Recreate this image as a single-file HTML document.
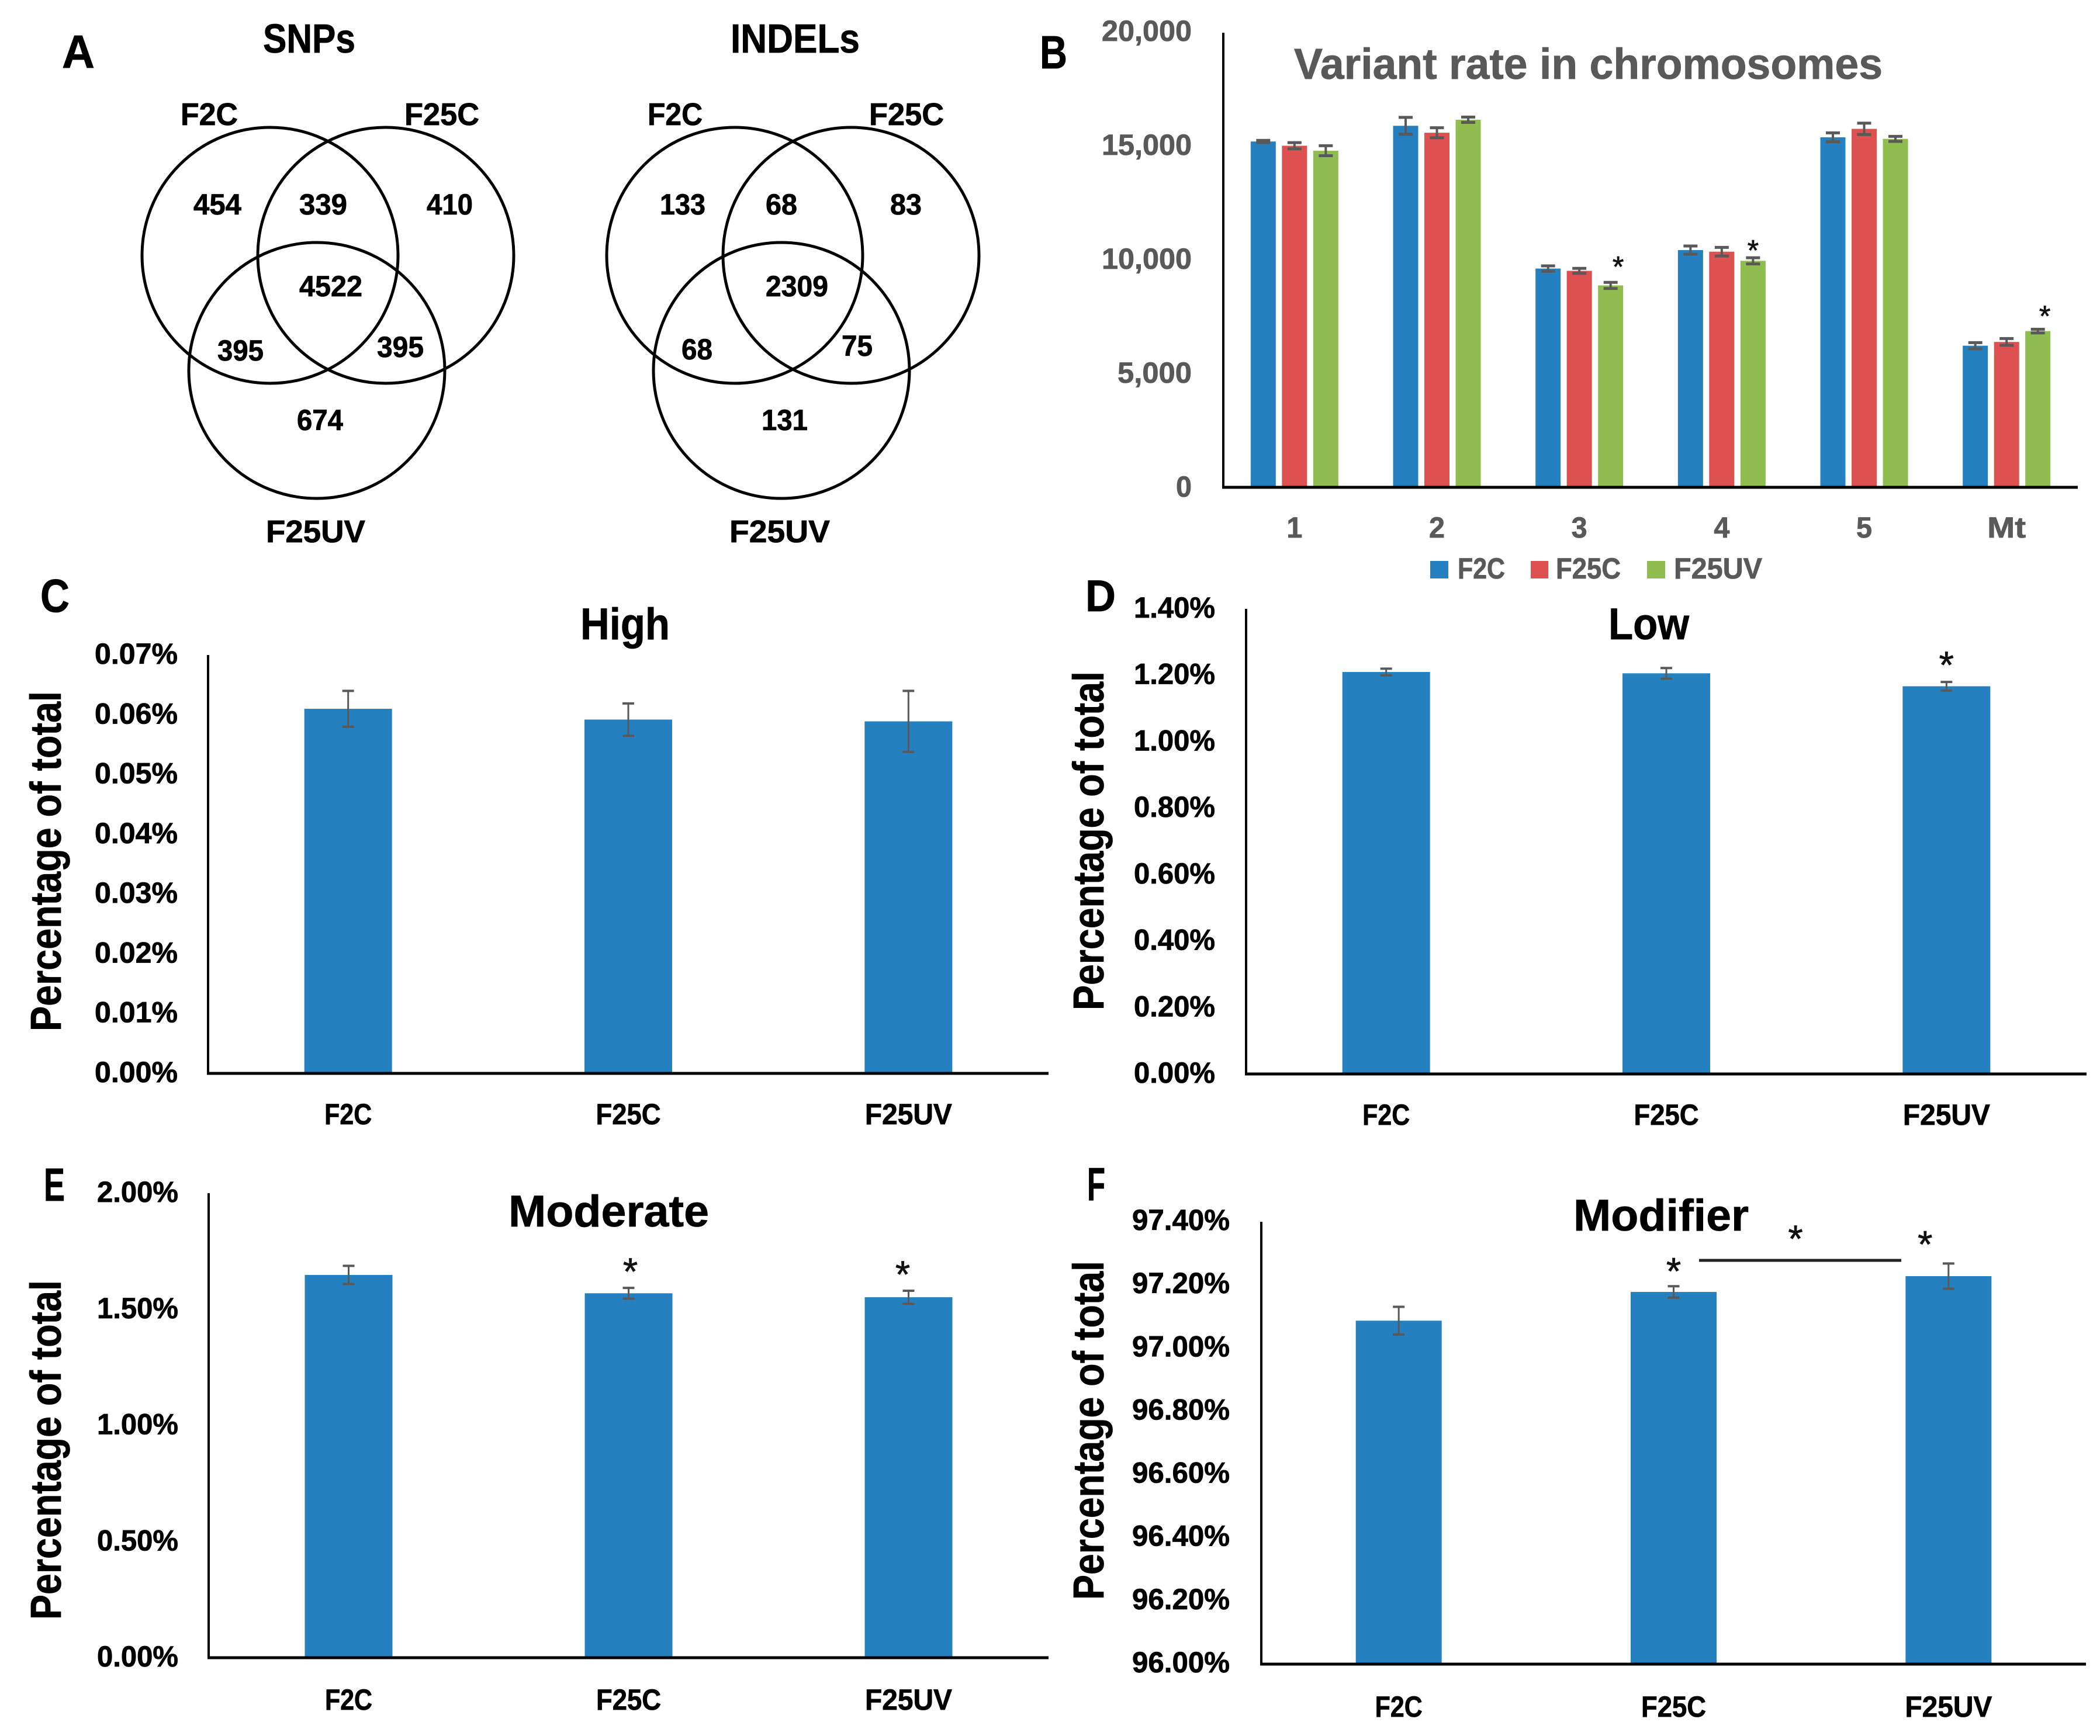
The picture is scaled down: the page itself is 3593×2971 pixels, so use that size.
<!DOCTYPE html>
<html lang="en">
<head>
<meta charset="utf-8">
<title>Variant analysis figure</title>
<style>
html,body{margin:0;padding:0;background:#fff;}
svg{display:block;}
text{font-family:"Liberation Sans",sans-serif;font-weight:bold;}
</style>
</head>
<body>
<svg id="figure" xmlns="http://www.w3.org/2000/svg" width="3593" height="2971" viewBox="0 0 3593 2971">
<rect x="0" y="0" width="3593" height="2971" fill="#ffffff"/>

<g id="panel-a" fill="none" stroke="#000" stroke-width="5">
<circle cx="462" cy="437" r="219"/>
<circle cx="660" cy="437" r="219"/>
<circle cx="542" cy="634" r="219"/>
<circle cx="1257" cy="437" r="219"/>
<circle cx="1456" cy="437" r="219"/>
<circle cx="1337" cy="634" r="219"/>
</g>
<g id="venn-text" fill="#000" stroke="#000" stroke-width="0.8">
<text x="106" y="116" font-size="80" textLength="56" lengthAdjust="spacingAndGlyphs">A</text>
<text x="450" y="90" font-size="70" textLength="158" lengthAdjust="spacingAndGlyphs">SNPs</text>
<text x="1250" y="90" font-size="70" textLength="221" lengthAdjust="spacingAndGlyphs">INDELs</text>
<text x="309" y="214" font-size="54" textLength="98" lengthAdjust="spacingAndGlyphs">F2C</text>
<text x="692" y="214" font-size="54" textLength="128" lengthAdjust="spacingAndGlyphs">F25C</text>
<text x="455" y="928" font-size="54" textLength="170" lengthAdjust="spacingAndGlyphs">F25UV</text>
<text x="1108" y="214" font-size="54" textLength="94" lengthAdjust="spacingAndGlyphs">F2C</text>
<text x="1487" y="214" font-size="54" textLength="128" lengthAdjust="spacingAndGlyphs">F25C</text>
<text x="1248" y="928" font-size="54" textLength="172" lengthAdjust="spacingAndGlyphs">F25UV</text>
<text x="331" y="367" font-size="50" textLength="82" lengthAdjust="spacingAndGlyphs">454</text>
<text x="512" y="367" font-size="50" textLength="82" lengthAdjust="spacingAndGlyphs">339</text>
<text x="730" y="367" font-size="50" textLength="79" lengthAdjust="spacingAndGlyphs">410</text>
<text x="512" y="507" font-size="50" textLength="108" lengthAdjust="spacingAndGlyphs">4522</text>
<text x="372" y="617" font-size="50" textLength="79" lengthAdjust="spacingAndGlyphs">395</text>
<text x="645" y="611" font-size="50" textLength="80" lengthAdjust="spacingAndGlyphs">395</text>
<text x="508" y="736" font-size="50" textLength="79" lengthAdjust="spacingAndGlyphs">674</text>
<text x="1129" y="367" font-size="50" textLength="78" lengthAdjust="spacingAndGlyphs">133</text>
<text x="1310" y="367" font-size="50" textLength="54" lengthAdjust="spacingAndGlyphs">68</text>
<text x="1523" y="367" font-size="50" textLength="54" lengthAdjust="spacingAndGlyphs">83</text>
<text x="1310" y="507" font-size="50" textLength="107" lengthAdjust="spacingAndGlyphs">2309</text>
<text x="1166" y="615" font-size="50" textLength="53" lengthAdjust="spacingAndGlyphs">68</text>
<text x="1440" y="609" font-size="50" textLength="53" lengthAdjust="spacingAndGlyphs">75</text>
<text x="1303" y="736" font-size="50" textLength="79" lengthAdjust="spacingAndGlyphs">131</text>
<text x="1779" y="117" font-size="80" textLength="47" lengthAdjust="spacingAndGlyphs">B</text>
<text x="69" y="1047" font-size="80" textLength="50" lengthAdjust="spacingAndGlyphs">C</text>
<text x="1857" y="1046" font-size="76" textLength="52" lengthAdjust="spacingAndGlyphs">D</text>
<text x="75" y="2055" font-size="80" textLength="36" lengthAdjust="spacingAndGlyphs">E</text>
<text x="1860" y="2054" font-size="80" textLength="31" lengthAdjust="spacingAndGlyphs">F</text>
</g>
<g id="chart-b"></g>
<g id="chart-c"></g>
<g id="chart-d"></g>
<g id="chart-e"></g>
<g id="chart-f"></g>
</svg>

<script>
// ---- Panel B data ----
const chromosomes = ['1', '2', '3', '4', '5', 'Mt'];
const seriesNames = ['F2C', 'F25C', 'F25UV'];
const f2cRates = [15175, 15865, 9600, 10410, 15360, 6215];
const f25cRates = [14990, 15560, 9500, 10340, 15730, 6380];
const f25uvRates = [14770, 16130, 8860, 9940, 15290, 6855];
const f2cRateErr = [50, 370, 118, 180, 195, 135];
const f25cRateErr = [135, 220, 110, 190, 250, 150];
const f25uvRateErr = [220, 118, 135, 135, 110, 80];
const rateTicks = [0, 5000, 10000, 15000, 20000];
const rateTickLabels = ['0', '5,000', '10,000', '15,000', '20,000'];

// ---- Panels C-F data ----
const impactCategories = ['F2C', 'F25C', 'F25UV'];
const highValues = [0.0610, 0.0592, 0.0589];
const highErr = [0.0030, 0.0027, 0.0051];
const highTicks = [0, 0.01, 0.02, 0.03, 0.04, 0.05, 0.06, 0.07];
const highTickLabels = ['0.00%', '0.01%', '0.02%', '0.03%', '0.04%', '0.05%', '0.06%', '0.07%'];
const lowValues = [1.210, 1.206, 1.167];
const lowErr = [0.010, 0.016, 0.013];
const lowTicks = [0, 0.2, 0.4, 0.6, 0.8, 1.0, 1.2, 1.4];
const lowTickLabels = ['0.00%', '0.20%', '0.40%', '0.60%', '0.80%', '1.00%', '1.20%', '1.40%'];
const moderateValues = [1.648, 1.569, 1.552];
const moderateErr = [0.039, 0.023, 0.028];
const moderateTicks = [0, 0.5, 1.0, 1.5, 2.0];
const moderateTickLabels = ['0.00%', '0.50%', '1.00%', '1.50%', '2.00%'];
const modifierValues = [97.087, 97.178, 97.228];
const modifierErr = [0.044, 0.018, 0.040];
const modifierTicks = [96.0, 96.2, 96.4, 96.6, 96.8, 97.0, 97.2, 97.4];
const modifierTickLabels = ['96.00%', '96.20%', '96.40%', '96.60%', '96.80%', '97.00%', '97.20%', '97.40%'];

const NS = 'http://www.w3.org/2000/svg';
const BLUE = '#2480bf', RED = '#dd5150', GREEN = '#8fbd4f', GREY = '#595959';

function make(parent, tag, name) {
  const el = document.createElementNS(NS, tag);
  
  
  parent.appendChild(el);
  return el;
}
function line(parent, name, x1, y1, x2, y2, color, w) {
  const el = make(parent, 'line', name);
  el.setAttribute('x1', x1); el.setAttribute('y1', y1);
  el.setAttribute('x2', x2); el.setAttribute('y2', y2);
  el.setAttribute('stroke', color); el.setAttribute('stroke-width', w);
  return el;
}
function rect(parent, name, x, y, w, h, color) {
  const el = make(parent, 'rect', name);
  el.setAttribute('x', x); el.setAttribute('y', y);
  el.setAttribute('width', w); el.setAttribute('height', h);
  el.setAttribute('fill', color);
  return el;
}
function label(parent, name, str, left, baseline, size, width, color) {
  const el = make(parent, 'text', name);
  el.textContent = str;
  el.setAttribute('x', left); el.setAttribute('y', baseline);
  el.setAttribute('font-size', size);
  el.setAttribute('textLength', width);
  el.setAttribute('lengthAdjust', 'spacingAndGlyphs');
  el.setAttribute('fill', color);
  el.setAttribute('stroke', color);
  el.setAttribute('stroke-width', '0.8');
  return el;
}
function star(parent, name, cx, cy, size) {
  const el = make(parent, 'text', name);
  el.textContent = '*';
  el.setAttribute('x', cx); el.setAttribute('y', cy + 0.47 * size);
  el.setAttribute('font-size', size);
  el.setAttribute('text-anchor', 'middle');
  el.setAttribute('fill', '#111');
  el.setAttribute('stroke', '#111');
  el.setAttribute('stroke-width', '0.8');
  el.style.fontWeight = 'normal';
  return el;
}
function errorBar(parent, name, cx, yHigh, yLow, capW, w) {
  line(parent, name + '-stem', cx, yHigh, cx, yLow, GREY, w);
  line(parent, name + '-cap-top', cx - capW / 2, yHigh, cx + capW / 2, yHigh, GREY, w + 1);
  line(parent, name + '-cap-bottom', cx - capW / 2, yLow, cx + capW / 2, yLow, GREY, w + 1);
}

// ---- Panel B ----
(function drawRateChart() {
  const g = document.getElementById('chart-b');
  const left = 2093, right = 3555, top = 54, bottom = 834, yMax = 20000;
  const band = (right - left) / chromosomes.length;
  const yAxis = v => bottom - v / yMax * (bottom - top);
  const xBand = i => left + (i + 0.5) * band;
  const values = [f2cRates, f25cRates, f25uvRates];
  const errs = [f2cRateErr, f25cRateErr, f25uvRateErr];
  const colors = [BLUE, RED, GREEN];
  const barW = 43, step = 53.5;
  const stars = [{ c: 2, dx: 13, gap: 33 }, { c: 3, dx: 0, gap: 19 }, { c: 5, dx: 12, gap: 29 }];

  label(g, 'chart-title', 'Variant rate in chromosomes', 2214, 135, 74, 1007, GREY);

  values.forEach((vals, s) => {
    vals.forEach((v, i) => {
      const cx = xBand(i) + (s - 1) * step;
      rect(g, 'bar-' + seriesNames[s] + '-' + chromosomes[i], cx - barW / 2, yAxis(v), barW, bottom - yAxis(v), colors[s]);
      errorBar(g, 'error-' + seriesNames[s] + '-' + chromosomes[i], cx, yAxis(v + errs[s][i]), yAxis(v - errs[s][i]), 24, 4);
    });
  });
  stars.forEach(st => {
    const v = f25uvRates[st.c] + f25uvRateErr[st.c];
    star(g, 'significance-star', xBand(st.c) + step + st.dx, yAxis(v) - st.gap, 50);
  });

  line(g, 'y-axis', left, top + 2, left, bottom + 2, '#000', 4);
  line(g, 'x-axis', left - 2, bottom, right, bottom, '#000', 5);

  rateTicks.forEach((t, i) => {
    const str = rateTickLabels[i];
    const digits = str.replace(/,/g, '').length;
    const commas = str.length - digits;
    const w = digits * 27 + commas * 19;
    label(g, 'y-tick-label', str, 2039 - w, yAxis(t) + 16, 50, w, GREY);
  });
  const catWidths = { Mt: 66 };
  chromosomes.forEach((c, i) => {
    const w = catWidths[c] || 27;
    label(g, 'x-tick-label', c, xBand(i) - w / 2, 920, 50, w, GREY);
  });

  // legend
  const legend = make(g, 'g', 'legend');
  rect(legend, 'legend-swatch-f2c', 2447, 960, 31, 30, BLUE);
  label(legend, 'legend-label-f2c', seriesNames[0], 2494, 990, 50, 81, GREY);
  rect(legend, 'legend-swatch-f25c', 2619, 960, 30, 30, RED);
  label(legend, 'legend-label-f25c', seriesNames[1], 2662, 990, 50, 111, GREY);
  rect(legend, 'legend-swatch-f25uv', 2818, 960, 31, 30, GREEN);
  label(legend, 'legend-label-f25uv', seriesNames[2], 2864, 990, 50, 151, GREY);
})();

// ---- Panels C-F ----
function drawImpactChart(cfg) {
  const g = document.getElementById(cfg.id);
  const { left, right, top, bottom, min, max } = cfg;
  const yAxis = v => bottom - (v - min) / (max - min) * (bottom - top);
  const band = (right - left) / impactCategories.length;
  const xBand = i => left + (i + 0.5) * band;
  const catW = { F2C: 81, F25C: 111, F25UV: 149 };

  cfg.values.forEach((v, i) => {
    const cx = xBand(i);
    rect(g, 'bar-' + impactCategories[i], cx - cfg.barW / 2, yAxis(v), cfg.barW, bottom - yAxis(v), BLUE);
    errorBar(g, 'error-' + impactCategories[i], cx, yAxis(v + cfg.err[i]), yAxis(v - cfg.err[i]), 20, 3);
    const w = catW[impactCategories[i]];
    label(g, 'x-tick-label', impactCategories[i], cx - w / 2, cfg.catBase, 50, w, '#000');
  });

  line(g, 'y-axis', left, top, left, bottom + 2, '#000', 4);
  line(g, 'x-axis', left - 2, bottom, right, bottom, '#000', 5);

  cfg.ticks.forEach((t, i) => {
    label(g, 'y-tick-label', cfg.tickLabels[i], cfg.tickLeft, yAxis(t) + cfg.tickOffset, 50, cfg.tickW, '#000');
  });

  label(g, 'chart-title', cfg.title, cfg.titleX, cfg.titleBase, 76, cfg.titleW, '#000');

  const yTitle = label(g, 'y-axis-title', 'Percentage of total', 0, 0, 74, cfg.yTitleLen, '#000');
  yTitle.setAttribute('transform', 'translate(' + cfg.yTitleX + ',' + cfg.yTitleBottom + ') rotate(-90)');

  cfg.stars.forEach(st => {
    const v = cfg.values[st.c] + cfg.err[st.c];
    star(g, 'significance-star', xBand(st.c) + st.dx, yAxis(v) - st.gap, 65);
  });
  return g;
}

drawImpactChart({
  id: 'chart-c', title: 'High', values: highValues, err: highErr, ticks: highTicks, tickLabels: highTickLabels,
  left: 356, right: 1794, top: 1121, bottom: 1837, min: 0, max: 0.07, barW: 150,
  tickLeft: 162, tickW: 142, tickOffset: 15, catBase: 1924, titleX: 993, titleBase: 1094, titleW: 153,
  yTitleX: 104, yTitleBottom: 1765, yTitleLen: 582, stars: []
});
drawImpactChart({
  id: 'chart-d', title: 'Low', values: lowValues, err: lowErr, ticks: lowTicks, tickLabels: lowTickLabels,
  left: 2132, right: 3570, top: 1042, bottom: 1838, min: 0, max: 1.4, barW: 150,
  tickLeft: 1940, tickW: 139, tickOffset: 15, catBase: 1925, titleX: 2752, titleBase: 1094, titleW: 138,
  yTitleX: 1888, yTitleBottom: 1729, yTitleLen: 580, stars: [{ c: 2, dx: 0, gap: 37 }]
});
drawImpactChart({
  id: 'chart-e', title: 'Moderate', values: moderateValues, err: moderateErr, ticks: moderateTicks, tickLabels: moderateTickLabels,
  left: 357, right: 1794, top: 2042, bottom: 2837, min: 0, max: 2.0, barW: 150,
  tickLeft: 166, tickW: 139, tickOffset: 15, catBase: 2926, titleX: 870, titleBase: 2099, titleW: 343,
  yTitleX: 104, yTitleBottom: 2772, yTitleLen: 581,
  stars: [{ c: 1, dx: 3, gap: 36 }, { c: 2, dx: -10, gap: 36 }]
});
const chartF = drawImpactChart({
  id: 'chart-f', title: 'Modifier', values: modifierValues, err: modifierErr, ticks: modifierTicks, tickLabels: modifierTickLabels,
  left: 2158, right: 3569, top: 2091, bottom: 2848, min: 96.0, max: 97.4, barW: 147,
  tickLeft: 1937, tickW: 167, tickOffset: 14, catBase: 2938, titleX: 2692, titleBase: 2106, titleW: 300,
  yTitleX: 1888, yTitleBottom: 2738, yTitleLen: 580,
  stars: [{ c: 1, dx: 0, gap: 34 }, { c: 2, dx: -40, gap: 41 }]
});
line(chartF, 'significance-bracket', 2907, 2157, 3253, 2157, '#222', 5);
star(chartF, 'significance-star', 3072, 2112, 65);
</script>
</body>
</html>
